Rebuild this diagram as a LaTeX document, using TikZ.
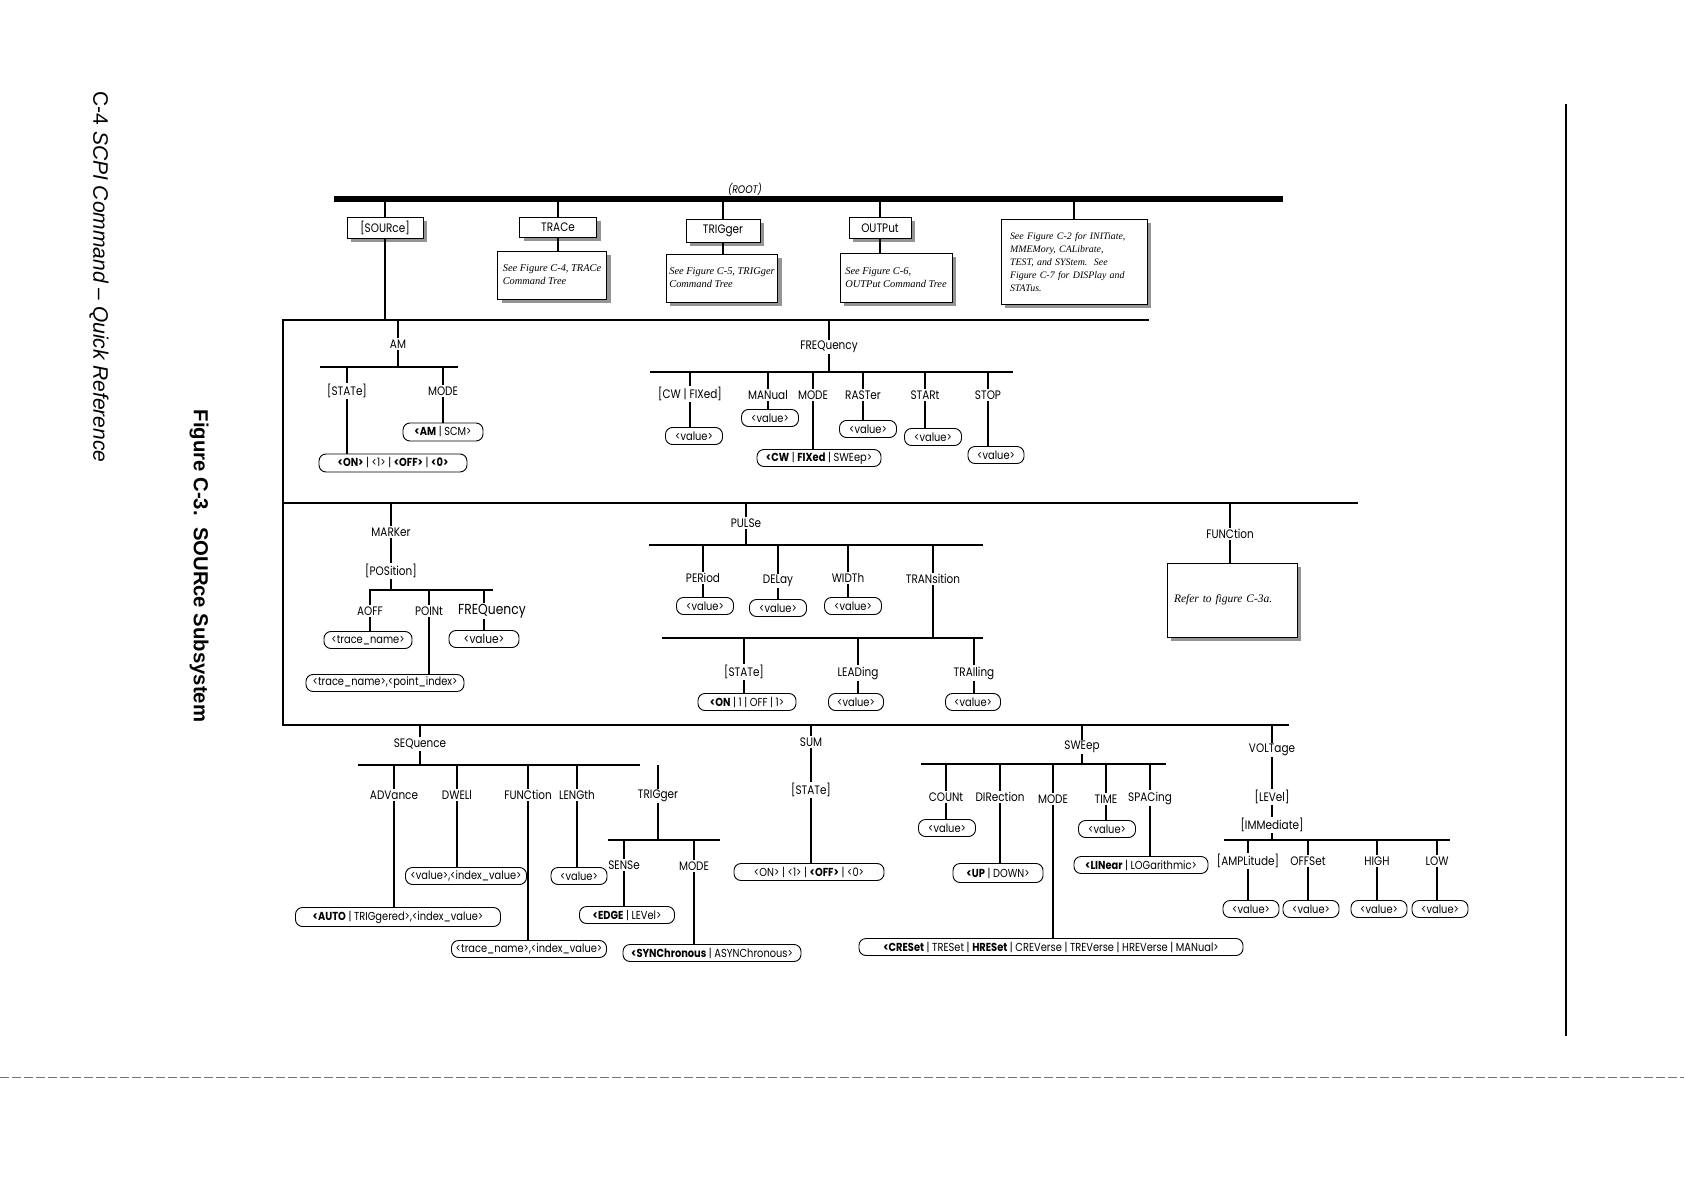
\documentclass[tikz,border=0pt]{standalone}
\usepackage{fontspec}
\usetikzlibrary{shadows}
\newfontfamily\labf[FakeStretch=0.85]{Poppins}
\newfontfamily\serf{Liberation Serif}
\newfontfamily\capf{Liberation Sans}
\newcommand\myLab{\labf\fontsize{12.3}{14}\selectfont}
\newcommand\myVal{\labf\fontsize{11.6}{13}\selectfont}
\newcommand\myNote{\serf\itshape\fontsize{10.4}{13}\selectfont}
\tikzset{
  lbl/.style={font=\myLab, inner sep=1.2pt},
  val/.style={draw, line width=0.9pt, rounded corners=7pt, fill=white, font=\myVal, inner sep=1.2pt, minimum height=17pt, minimum width=57pt},
  shad/.style={drop shadow={shadow xshift=4pt, shadow yshift=-4pt, fill=black!42, opacity=1}},
  cmd/.style={draw, line width=0.8pt, fill=white, font=\myLab, shad},
  note/.style={draw, line width=0.8pt, fill=white, font=\myNote, align=left, inner sep=3pt, shad},
  bar/.style={line width=2.8pt},
  stem/.style={line width=2.3pt},
  tstem/.style={line width=1.3pt},
  sect/.style={line width=2.2pt},
}
\begin{document}
\begin{tikzpicture}[x=1pt,y=-1pt]
\fill[white] (0,0) rectangle (1684,1190);
\useasboundingbox (0,0) rectangle (1684,1190);

% ---------- captions
\node[rotate=-90, font=\capf\fontsize{21}{24}\selectfont] (pagehdr) at (99,277) {C-4\ {\itshape SCPI Command – Quick Reference}};
\node[rotate=-90, font=\capf\bfseries\fontsize{20.3}{23}\selectfont] (figcap) at (199,566) {Figure C-3.\ \ SOURce Subsystem};
\coordinate (rl1) at (1566,104); \coordinate (rl2) at (1566,1036);
\draw[line width=1.3pt] (rl1) -- (rl2);
\coordinate (bl1) at (0,1077); \coordinate (bl2) at (1684,1077);
\draw[line width=0.9pt, black!55, dash pattern=on 9pt off 3pt] (bl1) -- (bl2);

% ---------- root
\coordinate (rootL) at (334,199); \coordinate (rootR) at (1283,199);
\draw[line width=6pt] (rootL) -- (rootR);
\node[lbl, font=\labf\itshape\fontsize{11}{13}\selectfont] (rootlbl) at (745,189) {(ROOT)};

\node[cmd, minimum width=76pt, minimum height=21pt] (src) at (385,228) {[SOURce]};
\node[cmd, minimum width=77pt, minimum height=20pt] (trc) at (558,227) {TRACe};
\node[note, minimum width=109pt, minimum height=48pt] (trcn) at (552,275) {See Figure C-4, TRACe\\Command Tree};
\node[cmd, minimum width=74pt, minimum height=23pt] (trg) at (723,231) {TRIGger};
\node[note, minimum width=111pt, minimum height=48pt] (trgn) at (722,278) {See Figure C-5, TRIGger\\Command Tree};
\node[cmd, minimum width=62pt, minimum height=21pt] (out) at (880,228) {OUTPut};
\node[note, minimum width=112pt, minimum height=49pt] (outn) at (896,278) {See Figure C-6,\\OUTPut Command Tree};
\node[note, text width=128pt, inner xsep=9pt, minimum height=85pt, font=\serf\itshape\fontsize{9.9}{13.2}\selectfont] (misc) at (1074,262) {See Figure C-2 for INITiate,\\MMEMory, CALibrate,\\TEST, and SYStem.\ \ See\\Figure C-7 for DISPlay and\\STATus.};

\draw[stem] (src.north) -- (src.north |- rootL);
\draw[stem] (trc.north) -- (trc.north |- rootL);
\draw[stem] (trc.south) -- (trc.south |- trcn.north);
\draw[stem] (trg.north) -- (trg.north |- rootL);
\draw[stem] (trg.south) -- (trg.south |- trgn.north);
\draw[stem] (out.north) -- (out.north |- rootL);
\draw[stem] (out.south) -- (out.south |- outn.north);
\draw[stem] (misc.north) -- (misc.north |- rootL);

% ---------- section lines
\coordinate (l1) at (283,320); \coordinate (l1e) at (1149,320);
\coordinate (l2) at (283,503); \coordinate (l2e) at (1358,503);
\coordinate (l3) at (283,725); \coordinate (l3e) at (1289,725);
\draw[sect] (l1e) -- (l1) -- (l3) -- (l3e);
\draw[sect] (l2) -- (l2e);
\draw[stem] (src.south) -- (src.south |- l1);

% ---------- AM
\node[lbl] (am) at (398,344) {AM};
\coordinate (amL) at (320,367); \coordinate (amR) at (458,367);
\draw[bar] (amL) -- (amR);
\draw[stem] (am.north) -- (am.north |- l1);
\draw[stem] (am.south) -- (am.south |- amL);
\node[lbl] (amst) at (347,391) {[STATe]};
\node[lbl] (ammode) at (443,391) {MODE};
\node[val, minimum width=80pt, minimum height=18pt] (amscm) at (443,432) {\textbf{<AM} | SCM>};
\node[val, minimum width=148pt, minimum height=18pt] (amon) at (393,463) {\textbf{<ON>} | <1> | \textbf{<OFF>} | \textbf{<0>}};
\draw[tstem] (amst.north) -- (amst.north |- amL);
\draw[tstem] (amst.south) -- (amst.south |- amon.north);
\draw[stem] (ammode.north) -- (ammode.north |- amL);
\draw[stem] (ammode.south) -- (ammode.south |- amscm.north);

% ---------- FREQuency
\node[lbl] (frq) at (829,347) {FREQuency};
\coordinate (fqL) at (650,372); \coordinate (fqR) at (1013,372);
\draw[bar] (fqL) -- (fqR);
\draw[stem] (frq.north) -- (frq.north |- l1);
\draw[stem] (frq.south) -- (frq.south |- fqL);
\node[lbl] (fcw) at (690,394) {[CW | FIXed]};
\node[val] (fcwv) at (694,436) {<value>};
\node[lbl] (fman) at (768,395) {MANual};
\node[val] (fmanv) at (770,418) {<value>};
\node[lbl] (fmode) at (813,395) {MODE};
\node[val, minimum width=124pt] (fmodev) at (819,458) {\textbf{<CW} | \textbf{FIXed} | SWEep>};
\node[lbl] (fras) at (863,395) {RASTer};
\node[val] (frasv) at (868,429) {<value>};
\node[lbl] (fsta) at (925,395) {STARt};
\node[val] (fstav) at (933,437) {<value>};
\node[lbl] (fsto) at (988,395) {STOP};
\node[val, minimum width=56pt] (fstov) at (996,455) {<value>};
\foreach \a/\b in {fcw/fcwv, fman/fmanv, fras/frasv, fsta/fstav, fsto/fstov}{
  \draw[stem] (\a.north) -- (\a.north |- fqL);
  \draw[stem] (\a.south) -- (\a.south |- \b.north);
}
\draw[stem] (fmode.north) -- (fmode.north |- fqL);
\draw[tstem] (fmode.south) -- (fmode.south |- fmodev.north);

% ---------- MARKer
\node[lbl] (mrk) at (391,532) {MARKer};
\node[lbl] (mpos) at (391,571) {[POSition]};
\coordinate (mkL) at (369,590); \coordinate (mkR) at (493,590);
\draw[bar] (mkL) -- (mkR);
\draw[stem] (mrk.north) -- (mrk.north |- l2);
\draw[stem] (mrk.south) -- (mpos.north);
\draw[stem] (mpos.south) -- (mpos.south |- mkL);
\node[lbl] (maoff) at (370,611) {AOFF};
\node[val, minimum width=88pt] (maoffv) at (368,640) {<trace\_name>};
\node[lbl] (mpt) at (429,611) {POINt};
\node[val, minimum width=158pt] (mptv) at (385,683) {<trace\_name>,<point\_index>};
\node[lbl, font=\labf\fontsize{14.5}{16}\selectfont] (mfq) at (492,611) {FREQuency};
\node[val, minimum width=70pt, font=\labf\fontsize{12.5}{14}\selectfont] (mfqv) at (484,639) {<value>};
\foreach \a/\b in {maoff/maoffv, mpt/mptv}{
  \draw[stem] (\a.north) -- (\a.north |- mkL);
  \draw[stem] (\a.south) -- (\a.south |- \b.north);
}
\draw[stem] (mfq.north -| mfqv.north) -- (mfqv.north |- mkL);
\draw[stem] (mfq.south -| mfqv.north) -- (mfqv.north);

% ---------- PULSe
\node[lbl] (pls) at (746,523) {PULSe};
\coordinate (plL) at (649,545); \coordinate (plR) at (983,545);
\draw[bar] (plL) -- (plR);
\draw[stem] (pls.north) -- (pls.north |- l2);
\draw[stem] (pls.south) -- (pls.south |- plL);
\node[lbl] (pper) at (703,578) {PERiod};
\node[val] (pperv) at (705,606) {<value>};
\node[lbl] (pdel) at (778,581) {DELay};
\node[val] (pdelv) at (778,608) {<value>};
\node[lbl] (pwid) at (848,578) {WIDTh};
\node[val] (pwidv) at (853,606) {<value>};
\foreach \a/\b in {pper/pperv, pdel/pdelv, pwid/pwidv}{
  \draw[stem] (\a.north) -- (\a.north |- plL);
  \draw[stem] (\a.south) -- (\a.south |- \b.north);
}
\node[lbl] (ptr) at (933,579) {TRANsition};
\coordinate (ptL) at (662,638); \coordinate (ptR) at (983,638);
\draw[bar] (ptL) -- (ptR);
\draw[stem] (ptr.north) -- (ptr.north |- plL);
\draw[stem] (ptr.south) -- (ptr.south |- ptL);
\node[lbl] (pst) at (744,672) {[STATe]};
\node[val, minimum width=98pt] (pstv) at (747,702) {\textbf{<ON} | 1 | OFF | 1>};
\node[lbl] (plead) at (858,673) {LEADing};
\node[val, minimum width=55pt] (pleadv) at (856,702) {<value>};
\node[lbl] (ptrl) at (974,673) {TRAIling};
\node[val, minimum width=55pt] (ptrlv) at (973,702) {<value>};
\foreach \a/\b in {pst/pstv, plead/pleadv, ptrl/ptrlv}{
  \draw[stem] (\a.north) -- (\a.north |- ptL);
  \draw[stem] (\a.south) -- (\a.south |- \b.north);
}

% ---------- FUNCtion
\node[lbl] (fnc) at (1230,534) {FUNCtion};
\node[note, text width=116pt, inner xsep=7pt, minimum height=74pt, font=\serf\itshape\fontsize{11.5}{13}\selectfont] (fncn) at (1232,600) {Refer to figure C-3a.};
\draw[stem] (fnc.north) -- (fnc.north |- l2);
\draw[stem] (fnc.south) -- (fnc.south |- fncn.north);

% ---------- SEQuence
\node[lbl] (seq) at (420,744) {SEQuence};
\coordinate (sqL) at (358,765); \coordinate (sqR) at (640,765);
\draw[bar] (sqL) -- (sqR);
\draw[stem] (seq.north) -- (seq.north |- l3);
\draw[stem] (seq.south) -- (seq.south |- sqL);
\node[lbl] (sadv) at (394,795) {ADVance};
\node[val, minimum width=205pt, minimum height=19pt] (sadvv) at (398,917) {\textbf{<AUTO} | TRIGgered>,<index\_value>};
\node[lbl] (sdw) at (457,795) {DWELl};
\node[val, minimum width=121pt] (sdwv) at (466,876) {<value>,<index\_value>};
\node[lbl] (sfn) at (528,795) {FUNCtion};
\node[val, minimum width=155pt] (sfnv) at (529,949) {<trace\_name>,<index\_value>};
\node[lbl] (slen) at (577,795) {LENGth};
\node[val, minimum width=56pt] (slenv) at (579,876) {<value>};
\node[lbl] (strg) at (658,796) {TRIGger};
\foreach \a/\b in {sadv/sadvv, sdw/sdwv, sfn/sfnv, slen/slenv}{
  \draw[stem] (\a.north) -- (\a.north |- sqL);
  \draw[stem] (\a.south) -- (\a.south |- \b.north);
}
\coordinate (stL) at (608,840); \coordinate (stR) at (720,840);
\draw[bar] (stL) -- (stR);
\draw[stem] (strg.north) -- (strg.north |- sqL);
\draw[tstem] (strg.south) -- (strg.south |- stL);
\node[lbl] (ssen) at (624,865) {SENSe};
\node[val, minimum width=95pt] (ssenv) at (627,915) {\textbf{<EDGE} | LEVel>};
\node[lbl] (smode) at (694,866) {MODE};
\node[val, minimum width=178pt] (smodev) at (712,953) {\textbf{<SYNChronous} | ASYNChronous>};
\foreach \a/\b in {ssen/ssenv, smode/smodev}{
  \draw[stem] (\a.north) -- (\a.north |- stL);
  \draw[stem] (\a.south) -- (\a.south |- \b.north);
}

% ---------- SUM
\node[lbl] (sum) at (811,742) {SUM};
\node[lbl] (sumst) at (811,790) {[STATe]};
\node[val, minimum width=150pt] (sumv) at (809,872) {<ON> | <1> | \textbf{<OFF>} | <0>};
\draw[stem] (sum.north) -- (sum.north |- l3);
\draw[stem] (sum.south) -- (sumst.north);
\draw[stem] (sumst.south) -- (sumst.south |- sumv.north);

% ---------- SWEep
\node[lbl] (swp) at (1082,747) {SWEep};
\coordinate (swL) at (921,764); \coordinate (swR) at (1166,764);
\draw[bar] (swL) -- (swR);
\draw[stem] (swp.north) -- (swp.north |- l3);
\draw[stem] (swp.south) -- (swp.south |- swL);
\node[lbl] (wcnt) at (946,797) {COUNt};
\node[val] (wcntv) at (947,828) {<value>};
\node[lbl] (wdir) at (1000,797) {DIRection};
\node[val, minimum width=90pt, minimum height=19pt] (wdirv) at (998,873) {\textbf{<UP} | DOWN>};
\node[lbl] (wmode) at (1053,799) {MODE};
\node[val, minimum width=384pt] (wmodev) at (1051,947) {\textbf{<CRESet} | TRESet | \textbf{HRESet} | CREVerse | TREVerse | HREVerse | MANual>};
\node[lbl] (wtime) at (1106,799) {TIME};
\node[val] (wtimev) at (1107,829) {<value>};
\node[lbl] (wspc) at (1150,798) {SPACing};
\node[val, minimum width=134pt] (wspcv) at (1141,865) {\textbf{<LINear} | LOGarithmic>};
\foreach \a/\b in {wcnt/wcntv, wdir/wdirv, wmode/wmodev, wtime/wtimev, wspc/wspcv}{
  \draw[stem] (\a.north) -- (\a.north |- swL);
  \draw[stem] (\a.south) -- (\a.south |- \b.north);
}

% ---------- VOLTage
\node[lbl] (vlt) at (1272,750) {VOLTage};
\node[lbl] (vlev) at (1272,797) {[LEVel]};
\node[lbl] (vimm) at (1272,825) {[IMMediate]};
\coordinate (vL) at (1224,840); \coordinate (vR) at (1450,840);
\draw[bar] (vL) -- (vR);
\draw[stem] (vlt.north) -- (vlt.north |- l3);
\draw[stem] (vlt.south) -- (vlev.north);
\draw[stem] (vlev.south) -- (vimm.north);
\draw[stem] (vimm.south) -- (vimm.south |- vL);
\node[lbl] (vamp) at (1248,861) {[AMPLitude]};
\node[val, minimum width=56pt] (vampv) at (1251,909) {<value>};
\node[lbl] (voff) at (1308,861) {OFFSet};
\node[val, minimum width=56pt] (voffv) at (1311,909) {<value>};
\node[lbl] (vhi) at (1377,861) {HIGH};
\node[val, minimum width=56pt] (vhiv) at (1379,909) {<value>};
\node[lbl] (vlo) at (1437,861) {LOW};
\node[val, minimum width=56pt] (vlov) at (1440,909) {<value>};
\foreach \a/\b in {vamp/vampv, voff/voffv, vhi/vhiv, vlo/vlov}{
  \draw[stem] (\a.north) -- (\a.north |- vL);
  \draw[stem] (\a.south) -- (\a.south |- \b.north);
}
\end{tikzpicture}
\end{document}
